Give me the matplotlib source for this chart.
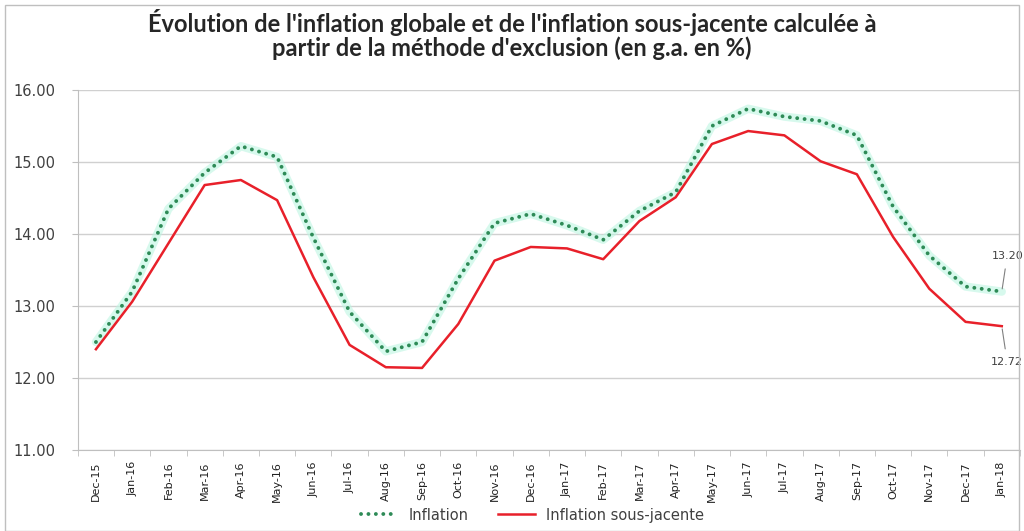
import numpy as np
import matplotlib
matplotlib.use("Agg")
import matplotlib.pyplot as plt
from matplotlib.patches import Rectangle

# Données
mois = ["Dec-15", "Jan-16", "Feb-16", "Mar-16", "Apr-16", "May-16", "Jun-16",
        "Jul-16", "Aug-16", "Sep-16", "Oct-16", "Nov-16", "Dec-16", "Jan-17",
        "Feb-17", "Mar-17", "Apr-17", "May-17", "Jun-17", "Jul-17", "Aug-17",
        "Sep-17", "Oct-17", "Nov-17", "Dec-17", "Jan-18"]

inflation = [12.50, 13.20, 14.35, 14.85, 15.22, 15.07, 13.95, 12.92, 12.37,
             12.50, 13.38, 14.15, 14.28, 14.12, 13.92, 14.32, 14.58, 15.50,
             15.74, 15.63, 15.57, 15.37, 14.38, 13.70, 13.27, 13.20]

inflation_sj = [12.40, 13.06, 13.87, 14.68, 14.75, 14.47, 13.40, 12.46, 12.15,
                12.14, 12.75, 13.63, 13.82, 13.80, 13.65, 14.18, 14.51, 15.25,
                15.43, 15.37, 15.01, 14.83, 13.96, 13.24, 12.78, 12.72]

y_ticks = [11.0, 12.0, 13.0, 14.0, 15.0, 16.0]

x = np.arange(len(mois))

fig = plt.figure(figsize=(10.24, 5.31), dpi=100)
ax = fig.add_axes([0.076, 0.1525, 0.92, 0.678])

# Lignes
ax.plot(x, inflation_sj, color="#E8202A", linewidth=1.8, label="Inflation sous-jacente", zorder=3)
ax.plot(x, inflation, color="#BDF5E2", linewidth=6, alpha=0.6, solid_capstyle="round", zorder=2)
ax.plot(x, inflation, color="#2E8B57", linewidth=2.8, linestyle=(0, (0.01, 1.9)),
        dash_capstyle="round", label="Inflation", zorder=4)

# Axes
ax.set_xlim(-0.5, len(mois) - 0.5)
ax.set_ylim(11, 16)
ax.set_yticks(y_ticks)
ax.set_yticklabels(["%.2f" % v for v in y_ticks], color="#404040", fontsize=10.5)
ax.set_xticks(x)
ax.set_xticklabels(mois, rotation=90, fontsize=8, color="#202020")
ax.tick_params(axis="x", length=0, pad=8)
ax.set_xticks(np.arange(-0.5, len(mois)), minor=True)
ax.tick_params(axis="x", which="minor", length=4, color="#BFBFBF")
ax.tick_params(axis="y", length=4, color="#BFBFBF", pad=12)
ax.grid(axis="y", color="#D0D0D0", linewidth=1)
ax.set_axisbelow(True)
for s in ["top", "right"]:
    ax.spines[s].set_visible(False)
ax.spines["left"].set_color("#BFBFBF")
ax.spines["bottom"].set_color("#BFBFBF")

# Étiquettes de fin
ax.annotate("13.20", xy=(x[-1], inflation[-1]), xytext=(x[-1] + 0.15, inflation[-1] + 0.5),
            fontsize=8, color="#404040", ha="center", va="center", annotation_clip=False,
            arrowprops=dict(arrowstyle="-", color="#808080", lw=0.8, shrinkA=4))
ax.annotate("12.72", xy=(x[-1], inflation_sj[-1]), xytext=(x[-1] + 0.15, inflation_sj[-1] - 0.5),
            fontsize=8, color="#404040", ha="center", va="center", annotation_clip=False,
            arrowprops=dict(arrowstyle="-", color="#808080", lw=0.8, shrinkA=4))

# Titre
fig.text(0.5, 0.958, "Évolution de l'inflation globale et de l'inflation sous-jacente calculée à",
         ha="center", va="center", fontsize=17, fontweight="bold", color="#262626", family="Lato")
fig.text(0.5, 0.91, "partir de la méthode d'exclusion (en g.a. en %)",
         ha="center", va="center", fontsize=17, fontweight="bold", color="#262626", family="Lato")

# Légende
handles, labels = ax.get_legend_handles_labels()
leg = fig.legend([handles[1], handles[0]], [labels[1], labels[0]], loc="center",
                 bbox_to_anchor=(0.52, 0.03), ncol=2, frameon=False, fontsize=10.5,
                 handlelength=2.5, columnspacing=2.0)
for t in leg.get_texts():
    t.set_color("#404040")

# Cadre du graphique
fig.patches.append(Rectangle((0.005, 0.0), 0.99, 0.99, transform=fig.transFigure,
                             fill=False, edgecolor="#BFBFBF", linewidth=1))

fig.savefig("out.png", dpi=100)
